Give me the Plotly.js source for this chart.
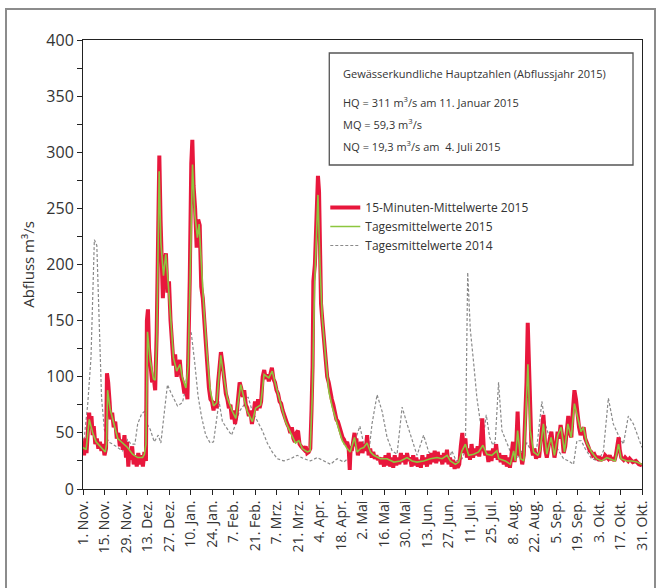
<!DOCTYPE html>
<html>
<head>
<meta charset="utf-8">
<script src="https://cdn.plot.ly/plotly-3.0.1.min.js"></script>
<style>
  html, body { margin: 0; padding: 0; background: #fff; }
  #wrap { position: relative; width: 660px; height: 588px; overflow: hidden; }
  #frame { position: absolute; left: 5px; top: 8px; width: 651px; height: 600px; border: 2px solid #8c8c8c; box-sizing: border-box; }
  #chart { position: absolute; left: 0; top: 0; width: 660px; height: 588px; }
</style>
</head>
<body>
<div id="wrap"><div id="frame"></div><div id="chart"></div></div>
<script>
// Tick positions (days since 1 Nov 2014) and labels
const tickDays = [0,14,28,42,56,70,84,98,112,126,140,154,168,182,196,210,224,238,252,266,280,294,308,322,336,350,364];
const tickLabels = ["1. Nov.","15. Nov.","29. Nov.","13. Dez.","27. Dez.","10. Jan.","24. Jan.","7. Feb.","21. Feb.","7. Mrz.","21. Mrz.","4. Apr.","18. Apr.","2. Mai","16. Mai","30. Mai","13. Jun.","27. Jun.","11. Jul.","25. Jul.","8. Aug.","22. Aug.","5. Sep.","19. Sep.","3. Okt.","17. Okt.","31. Okt."];

// 15-Minuten-Mittelwerte 2015 [day, m3/s]
const minuten2015 = [[0,42],[0.7,30],[1.5,45],[2.3,32],[3,48],[4,68],[4.8,55],[5.5,65],[6.3,48],[7,56],[8,40],[9,45],[10,36],[11,42],[12,34],[13,40],[14,30],[15,36],[15.6,103],[16.4,95],[17.3,78],[18,62],[19,68],[20,55],[21,60],[22,45],[23,50],[24,38],[25,44],[26,35],[27,48],[28,28],[28.7,42],[29.5,20],[30.3,35],[31,26],[32,38],[33,22],[34,30],[35,20],[36,32],[37,22],[38,30],[39,20],[40,33],[41,25],[41.6,150],[42.3,160],[43,125],[44,110],[45,95],[46,100],[47,88],[48,140],[49,280],[49.7,297],[50.5,240],[51.3,200],[52,170],[53,200],[54,210],[55,175],[56,185],[57,150],[58,130],[59,110],[60,120],[61,100],[62,108],[63,115],[64,100],[65,95],[66,85],[67,92],[68,80],[68.7,120],[69.5,185],[70.5,290],[71.2,311],[72,270],[73,250],[74,215],[75,240],[76,235],[77,180],[78,170],[79,145],[80,130],[81,110],[82,90],[83,80],[84,78],[85,70],[86,78],[87,72],[88,95],[89,110],[89.8,122],[91,110],[92,95],[93,85],[94,80],[95,72],[96,75],[97,62],[98,70],[99,58],[100,66],[101,80],[102,95],[103,90],[104,82],[105,88],[106,75],[107,72],[108,65],[109,70],[110,58],[111,66],[112,78],[113,70],[114,80],[115,72],[116,78],[117,100],[118,106],[119,98],[120,102],[121,96],[122,104],[123,108],[124,98],[125,95],[126,88],[127,85],[128,78],[129,76],[130,70],[131,65],[132,62],[133,58],[134,55],[135,50],[136,55],[137,45],[138,42],[139,50],[140,52],[141,40],[142,38],[143,36],[144,35],[145,38],[146,32],[147,33],[148,36],[148.8,70],[149.5,110],[150,185],[151,200],[152,240],[153,279],[153.7,265],[154.3,210],[155,165],[156,148],[157,130],[158,120],[159,100],[160,95],[161,85],[162,80],[163,75],[164,68],[165,62],[166,60],[167,55],[168,50],[169,46],[170,44],[171,40],[172,42],[173,36],[173.7,17],[174.3,38],[175,34],[176,42],[176.8,50],[177.5,38],[178,45],[179,30],[180,35],[181,42],[182,32],[183,40],[184,34],[185,48],[186,30],[187,36],[188,28],[189,33],[190,27],[191,30],[192,26],[193,28],[194,22],[195,28],[196,20],[197,30],[198,21],[199,32],[200,20],[201,28],[202,19],[203,30],[204,21],[205,28],[206,22],[207,32],[208,24],[209,30],[210,22],[211,32],[212,25],[213,28],[214,20],[215,30],[216,21],[217,28],[218,20],[219,26],[220,19],[221,30],[222,22],[223,28],[224,20],[225,31],[226,22],[227,32],[228,24],[229,34],[230,23],[231,33],[232,25],[233,30],[234,22],[235,32],[236,24],[237,35],[238,22],[239,28],[240,20],[241,26],[242,18],[243,24],[244,19],[245,22],[246,38],[247,50],[248,32],[249,45],[250,28],[251,36],[252,26],[253,40],[254,28],[255,36],[256,30],[257,38],[258,29],[259,40],[260,63],[261,35],[262,30],[263,34],[264,24],[265,34],[266,25],[267,36],[268,28],[269,40],[270,26],[271,32],[272,24],[273,30],[274,22],[275,30],[276,20],[277,28],[278,19],[279,30],[280,42],[281,24],[282,36],[283,69],[284,30],[285,32],[286,22],[287,30],[288,60],[288.8,95],[289.6,148],[290.4,100],[291.2,55],[292,38],[293,30],[294,36],[295,27],[296,32],[297,28],[298,40],[299,55],[299.8,66],[300.5,50],[301,35],[302,28],[303,38],[304,45],[305,51],[306,35],[307,28],[308,36],[309,51],[310,45],[311,57],[312,48],[313,32],[314,38],[315,55],[316,65],[317,50],[318,46],[319,70],[320,88],[321,80],[322,62],[323,55],[324,48],[325,52],[326,55],[327,45],[328,40],[329,38],[330,34],[331,33],[332,30],[333,31],[334,28],[335,27],[336,29],[337,25],[338,28],[339,26],[340,30],[341,29],[342,27],[343,30],[344,26],[345,28],[346,25],[347,30],[348,42],[348.8,46],[349.5,35],[350.5,28],[352,26],[353,28],[355,25],[356,27],[358,24],[360,25],[362,22],[364,21]];

// Tagesmittelwerte 2015 [day, m3/s]
const tages2015 = [[0,37],[2,35],[4.1,62],[6.3,50],[8.5,42],[11.7,37],[14.5,33],[15.3,40],[16,88],[17.7,71],[20,59],[22.6,45],[25.8,41],[29,37],[32.3,31],[35.6,28],[38.8,28],[40,31],[41,40],[42,140],[43.7,115],[45.9,98],[47,97],[48,130],[49.6,283],[50.7,220],[52.4,190],[53.9,209],[55.4,185],[57.2,152],[58.9,117],[61,105],[63.2,111],[64.7,99],[67,90],[68.5,110],[69.7,179],[71.3,289],[72.8,245],[74.5,224],[75.6,236],[77.1,194],[78.8,159],[80.6,123],[82.8,88],[85,74],[87.1,77],[88.5,100],[89.7,119],[91.8,99],[94,81],[97.3,69],[99.5,63],[102.7,93],[104.9,81],[107,69],[110.3,60],[112.4,72],[115.7,75],[117.9,102],[121,99],[123.2,105],[125.4,93],[128.7,76],[131.9,60],[135.2,50],[138.4,41],[140.6,43],[142.8,36],[146,33],[147.9,34],[149.3,84],[150.8,182],[152.1,229],[153,262],[154.3,200],[155.8,152],[158,117],[160.1,87],[162.3,73],[165.5,58],[168.8,43],[172,36],[174,33],[176.8,46],[178.5,33],[180.7,36],[182.8,37],[185,41],[187.2,33],[189.3,30],[193.7,27],[198,27],[202.4,24],[206.7,25],[211,28],[214.3,25],[217.5,24],[221.8,25],[226.2,27],[230.5,28],[233.8,27],[237.1,30],[239.2,25],[242.5,22],[244.7,24],[246.8,34],[249,40],[251.1,30],[254.4,31],[257.6,33],[260.4,39],[263,31],[266.2,30],[269.5,34],[270.7,27],[275,25],[278.3,22],[280.4,34],[281.5,25],[283,52],[285,27],[287,25],[288.6,86],[289.7,111],[291.2,52],[293.4,33],[296.2,30],[297.6,34],[299.8,58],[302,31],[304.8,46],[307,30],[309.2,48],[311.3,55],[313.5,33],[315.7,58],[317.9,46],[320,76],[322.2,63],[324.3,51],[325.8,55],[328,41],[331.2,33],[334.5,27],[337.7,25],[341,28],[343,27],[346.5,25],[348.7,40],[350.4,27],[354,25],[357.4,25],[360.6,24],[364,22]];

// Tagesmittelwerte 2014 [day, m3/s]
const tages2014 = [[0,35],[3.1,76],[5.2,117],[7.4,222],[9,217],[10.6,155],[12.1,81],[13.9,53],[16.5,42],[19.3,40],[22.5,37],[25.8,34],[29,44],[31.2,40],[33.8,40],[35.6,58],[38.2,67],[39.9,69],[41.7,58],[43.8,53],[46.4,42],[49,48],[50.7,41],[52.9,66],[55,93],[57.2,86],[59.4,80],[61.5,74],[64.7,77],[66.9,89],[69.1,139],[70.5,139],[72.8,112],[74.9,83],[77.1,65],[79.9,48],[82.8,41],[85,42],[86.6,58],[88.6,78],[90.8,60],[94,53],[96.7,48],[99.5,58],[101.7,69],[104.9,75],[107.5,82],[110.3,69],[113.5,60],[116.8,52],[120,41],[123.2,33],[126.5,27],[130.8,25],[135.2,27],[139.5,30],[143.8,27],[148.1,25],[152.5,28],[156.8,25],[161.2,22],[165.5,27],[169.8,24],[174.2,29],[176.3,40],[180.3,56],[182.8,40],[186,31],[188.2,58],[191.5,84],[194.8,69],[198,46],[201.3,34],[204.5,31],[207.8,73],[211,58],[214.3,43],[217.5,30],[221.8,48],[225.1,33],[228.3,28],[231.6,27],[234.8,25],[238.1,25],[240.2,34],[243,25],[246.8,27],[249,34],[250.5,193],[252.2,142],[254.4,112],[256.5,81],[258.7,60],[260.8,48],[262.6,66],[264.8,46],[266.9,39],[268.4,42],[270.6,95],[272.8,52],[276,41],[279.3,30],[282.5,27],[285.8,34],[289,41],[292.3,33],[295.5,37],[298.8,78],[301,58],[303.2,48],[306.4,43],[309.7,34],[312.9,27],[316.2,25],[319.4,22],[321.6,43],[324.4,43],[327,36],[331.2,27],[335.6,25],[338.9,34],[342.1,81],[345.3,58],[348.6,48],[351.9,40],[355.1,65],[358.4,58],[361.6,46],[364,37]];

const seriesNames = ["15-Minuten-Mittelwerte 2015", "Tagesmittelwerte 2015", "Tagesmittelwerte 2014"];
const infoLines = [
  "Gewässerkundliche Hauptzahlen (Abflussjahr 2015)",
  "HQ = 311 m<sup>3</sup>/s am 11. Januar 2015",
  "MQ = 59,3 m<sup>3</sup>/s",
  "NQ = 19,3 m<sup>3</sup>/s am  4. Juli 2015"
];

const FONT = "'Open Sans', 'Noto Sans', sans-serif";
const xs = a => a.map(p => p[0]);
const ys = a => a.map(p => p[1]);

const traces = [
  { x: xs(tages2014), y: ys(tages2014), name: seriesNames[2], type: 'scatter', mode: 'lines',
    line: { color: '#8a8a8a', width: 1.2, dash: '3px,2px' }, legendrank: 3 },
  { x: xs(minuten2015), y: ys(minuten2015), name: seriesNames[0], type: 'scatter', mode: 'lines',
    line: { color: '#e8173c', width: 4 }, legendrank: 1 },
  { x: xs(tages2015), y: ys(tages2015), name: seriesNames[1], type: 'scatter', mode: 'lines',
    line: { color: '#8cc63e', width: 1.6 }, legendrank: 2 }
];

const plotL = 82.5, plotR = 642, plotT = 40, plotB = 489;
const px = v => (v - plotL) / (plotR - plotL);
const py = v => (plotB - v) / (plotB - plotT);

const infoY = [73, 102, 124, 146];
const annotations = infoLines.map((t, i) => ({
  xref: 'paper', yref: 'paper', x: px(341), y: py(infoY[i]), xanchor: 'left', yanchor: 'middle',
  text: t, showarrow: false, font: { family: FONT, size: 11, color: '#333' }
}));

const layout = {
  width: 660, height: 588,
  margin: { l: plotL, r: 660 - plotR, t: plotT, b: 588 - plotB },
  paper_bgcolor: 'rgba(0,0,0,0)', plot_bgcolor: '#fff',
  font: { family: FONT, color: '#333' },
  showlegend: true,
  legend: { x: px(325), y: py(193), xanchor: 'left', yanchor: 'top', bgcolor: 'rgba(0,0,0,0)',
            font: { family: FONT, size: 12, color: '#333' }, traceorder: 'normal' },
  xaxis: {
    range: [0, 364], tickmode: 'array', tickvals: tickDays, ticktext: tickLabels, tickangle: -90,
    ticks: 'outside', ticklen: 5, tickcolor: '#222', showgrid: false, zeroline: false,
    showline: true, linecolor: '#222', linewidth: 1, mirror: true,
    tickfont: { family: FONT, size: 14, color: '#333' }
  },
  yaxis: {
    range: [0, 400], dtick: 50, ticks: 'outside', ticklen: 5, tickcolor: '#222',
    minor: { dtick: 25, ticks: 'outside', ticklen: 5, tickcolor: '#222', showgrid: false },
    showgrid: false, zeroline: false, showline: true, linecolor: '#222', linewidth: 1, mirror: true,
    tickfont: { family: FONT, size: 16, color: '#333' },
    title: { text: 'Abfluss m³/s', font: { family: FONT, size: 15, color: '#333' }, standoff: 8 }
  },
  shapes: [{ type: 'rect', xref: 'paper', yref: 'paper', x0: px(329), x1: px(633), y0: py(165), y1: py(53),
             line: { color: '#555', width: 1.3 }, fillcolor: 'rgba(0,0,0,0)' }],
  annotations: annotations
};

Plotly.newPlot('chart', traces, layout, { displayModeBar: false, staticPlot: true });
</script>
</body>
</html>
